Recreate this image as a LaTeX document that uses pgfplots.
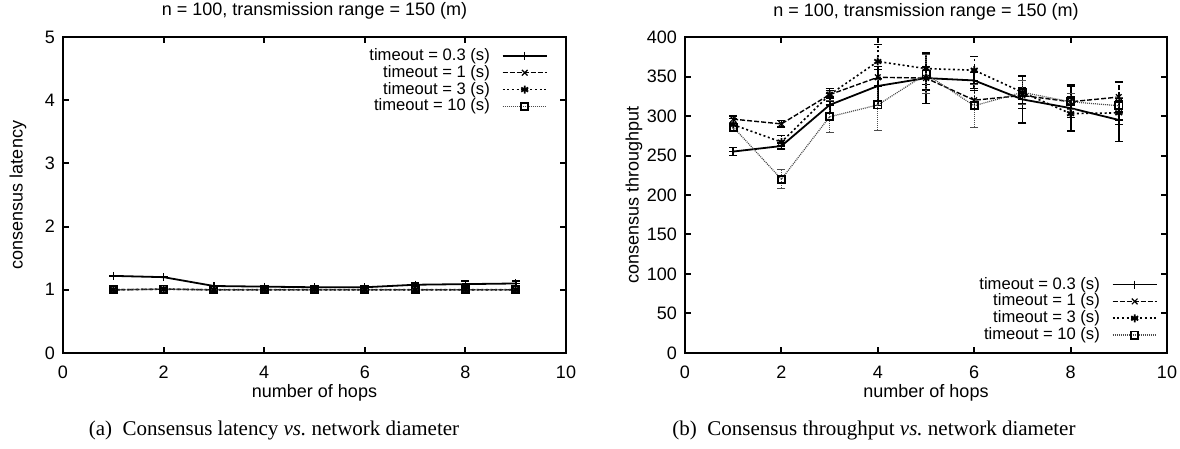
\documentclass[border=0pt]{standalone}
\usepackage{fontspec}
\setmainfont{Liberation Serif}
\newfontfamily\hv{Liberation Sans}
\usepackage{pgfplots}
\pgfplotsset{compat=1.18}
\begin{document}
\begin{tikzpicture}
\path[use as bounding box] (0,0) rectangle (590pt,224.5pt);
\pgfplotsset{
  every axis/.append style={
    scale only axis, height=158pt,
    axis line style={line width=1.2pt},
    every tick/.style={line width=1pt,black},
    major tick length=3pt, tick align=inside,
    xmin=0, xmax=10, xtick={0,2,...,10},
    font=\hv\fontsize{9}{10.5}\selectfont,
    /pgf/number format/assume math mode=true,
    ticklabel style={font=\hv\fontsize{9}{10.5}\selectfont},
    xticklabel style={yshift=-3pt},
    yticklabel style={xshift=-0.5pt},
    legend plot pos=right,
    legend cell align=right,
    legend style={draw=none, fill=none, font=\hv\fontsize{8.3}{9.5}\selectfont, row sep=0.9pt, inner sep=0pt, nodes={inner sep=0pt},
      /tikz/every odd column/.append style={column sep=6pt}},
    legend image code/.code={\draw[mark repeat=2,mark phase=2,#1] plot coordinates {(0pt,0pt) (11pt,0pt) (22pt,0pt)};},
    title style={at={(axis description cs:0.5,1)}, anchor=base, yshift=4.5pt},
    xlabel style={at={(axis description cs:0.5,0)}, anchor=center, yshift=-20pt},
  },
  s03/.style={black, solid, line width=0.9pt, mark=+, mark size=2pt, mark options={solid, line width=0.6pt},
     error bars/error bar style={solid, line width=0.9pt}, error bars/error mark options={rotate=90, mark size=2pt, line width=0.7pt}},
  s1/.style={black, dash pattern=on 2.5pt off 1pt, line width=0.7pt, mark=x, mark size=2pt, mark options={solid, line width=0.6pt},
     error bars/error bar style={dash pattern=on 2.5pt off 1pt, line width=0.7pt}, error bars/error mark options={rotate=90, mark size=2pt, solid, line width=0.6pt}},
  s3/.style={black, dash pattern=on 1pt off 1.3pt, line width=0.8pt, mark=asterisk, mark size=2pt, mark options={solid, line width=0.9pt},
     error bars/error bar style={dash pattern=on 1pt off 1.3pt, line width=0.7pt}, error bars/error mark options={rotate=90, mark size=2pt, solid, line width=0.6pt}},
  s10/.style={black!70, dash pattern=on 0.5pt off 0.5pt, line width=0.6pt, mark=square, mark size=1.8pt, mark options={solid, black, line width=0.9pt},
     error bars/error bar style={dash pattern=on 0.5pt off 0.5pt, line width=0.6pt}, error bars/error mark options={rotate=90, mark size=2pt, solid, line width=0.5pt}},
}
% ---------- (a) latency ----------
\begin{axis}[
  at={(31.5pt,48pt)}, anchor=south west, width=251.5pt,
  ymin=0, ymax=5, ytick={0,1,...,5},
  title={n = 100, transmission range = 150 (m)},
  xlabel={number of hops}, ylabel={consensus latency},
  ylabel style={at={(axis description cs:-0.0895,0.5)}, anchor=center, rotate=0},
  legend style={at={(axis description cs:1,1)}, anchor=north east, xshift=-9pt, yshift=-5.5pt},
]
\addplot+[s03, error bars/.cd, y dir=both, y explicit] table[x=x, y=y, y error=e] {
x y e
1 1.22 0.01
2 1.20 0.01
3 1.06 0.01
4 1.05 0.01
5 1.04 0.01
6 1.04 0.01
7 1.08 0.03
8 1.09 0.05
9 1.10 0.04
};
\addlegendentry{timeout = 0.3 (s)}
\addplot+[s1, error bars/.cd, y dir=both, y explicit] table[x=x, y=y, y error=e] {
x y e
1 1.00 0.005
2 1.01 0.005
3 1.00 0.005
4 1.00 0.005
5 1.00 0.005
6 1.00 0.005
7 1.00 0.005
8 1.00 0.005
9 1.00 0.005
};
\addlegendentry{timeout = 1 (s)}
\addplot+[s3, error bars/.cd, y dir=both, y explicit] table[x=x, y=y, y error=e] {
x y e
1 1.00 0.005
2 1.01 0.005
3 1.00 0.005
4 1.00 0.005
5 1.00 0.005
6 1.00 0.005
7 1.00 0.005
8 1.00 0.005
9 1.00 0.005
};
\addlegendentry{timeout = 3 (s)}
\addplot+[s10, error bars/.cd, y dir=both, y explicit] table[x=x, y=y, y error=e] {
x y e
1 1.00 0.005
2 1.01 0.005
3 1.00 0.005
4 1.00 0.005
5 1.00 0.005
6 1.00 0.005
7 1.00 0.005
8 1.00 0.005
9 1.00 0.005
};
\addlegendentry{timeout = 10 (s)}
\end{axis}
% ---------- (b) throughput ----------
\begin{axis}[
  at={(342.5pt,48pt)}, anchor=south west, width=241pt,
  ymin=0, ymax=400, ytick={0,50,...,400},
  title={n = 100, transmission range = 150 (m)},
  xlabel={number of hops}, ylabel={consensus throughput},
  ylabel style={at={(axis description cs:-0.106,0.5)}, anchor=center, rotate=0},
  legend style={at={(axis description cs:1,0)}, anchor=south east, xshift=-4.5pt, yshift=5pt},
]
\addplot+[s03, error bars/.cd, y dir=both, y explicit] table[x=x, y=y, y error=e] {
x y e
1 255 5
2 262 4
3 314 10
4 338 25
5 348 32
6 345 10
7 321 30
8 310 29
9 295 27
};
\addlegendentry{timeout = 0.3 (s)}
\addplot+[s1, error bars/.cd, y dir=both, y explicit] table[x=x, y=y, y error=e] {
x y e
1 296 4
2 290 4
3 327 5
4 349 10
5 348 15
6 320 12
7 326 10
8 318 20
9 324 19
};
\addlegendentry{timeout = 1 (s)}
\addplot+[s3, error bars/.cd, y dir=both, y explicit] table[x=x, y=y, y error=e] {
x y e
1 289 8
2 267 8
3 327 8
4 369 22
5 360 20
6 358 17
7 330 20
8 303 22
9 304 15
};
\addlegendentry{timeout = 3 (s)}
\addplot+[s10, error bars/.cd, y dir=both, y explicit] table[x=x, y=y, y error=e] {
x y e
1 286 6
2 220 12
3 299 20
4 314 32
5 353 25
6 313 27
7 330 15
8 318 10
9 313 10
};
\addlegendentry{timeout = 10 (s)}
\end{axis}
\node[font=\fontsize{10.5}{12}\selectfont] at (137pt,9.5pt) {(a)\ \ Consensus latency \textit{vs.}\ network diameter};
\node[font=\fontsize{10.5}{12}\selectfont] at (437pt,9.5pt) {(b)\ \ Consensus throughput \textit{vs.}\ network diameter};
\end{tikzpicture}
\end{document}
